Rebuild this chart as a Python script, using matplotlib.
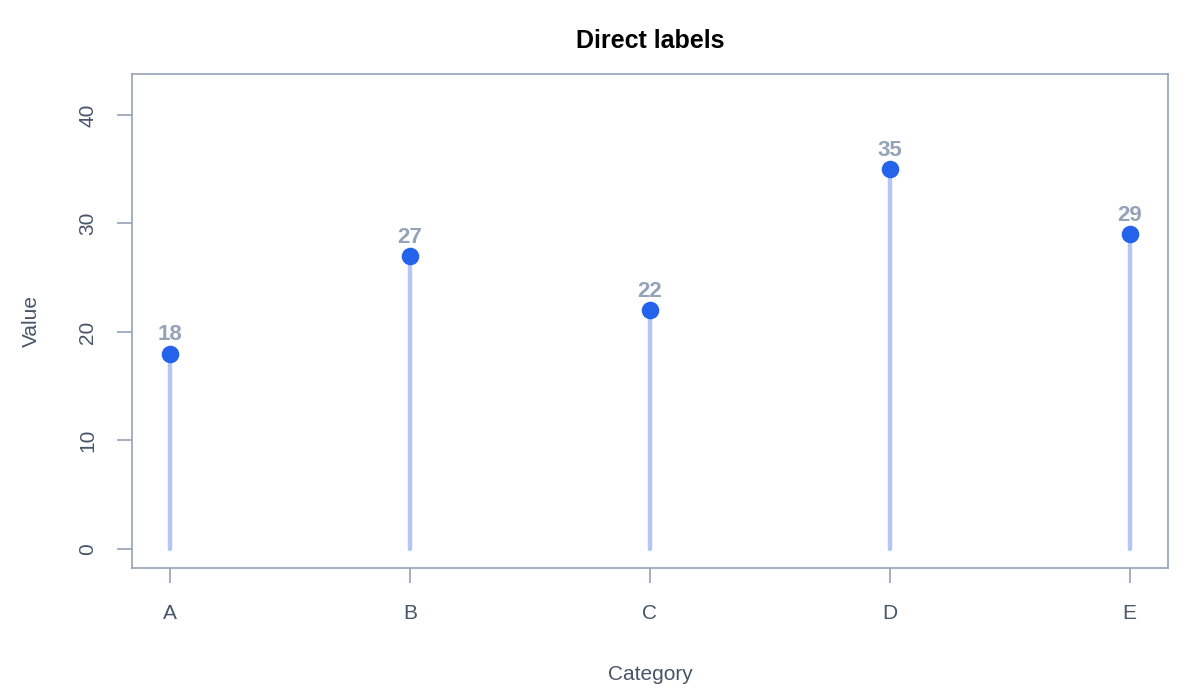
import matplotlib
matplotlib.use('Agg')
import matplotlib.pyplot as plt

plt.rcParams['font.family'] = ['Liberation Sans', 'DejaVu Sans']

categories = ['A', 'B', 'C', 'D', 'E']
values = [18, 27, 22, 35, 29]
yticks = [0, 10, 20, 30, 40]

box_col = '#94a3b8'
text_col = '#475569'

fig = plt.figure(figsize=(12, 7), dpi=100)
ax = fig.add_axes([0.11, 0.1886, 0.8633, 0.7057])

x = list(range(len(categories)))
ax.vlines(x, 0, values, color='#b4c6f6', linewidth=3.2, capstyle='round', zorder=2)
ax.scatter(x, values, s=160, color='#2563eb', zorder=3, linewidths=0)
for xi, v in zip(x, values):
    ax.annotate(str(v), (xi, v), xytext=(0, 6), textcoords='offset points',
                ha='center', va='bottom', fontsize=16, fontweight='bold', color='#94a3b8')

ax.set_xlim(-0.16, 4.16)
ax.set_ylim(-1.75, 43.78)
ax.set_xticks(x)
ax.set_xticklabels(categories)
ax.set_yticks(yticks)
ax.set_yticklabels([str(t) for t in yticks], rotation=90, va='center')

for s in ax.spines.values():
    s.set_color(box_col)
    s.set_linewidth(1.2)
ax.tick_params(axis='both', colors=box_col, length=11, width=1.2, labelsize=15,
               labelcolor=text_col)
ax.tick_params(axis='x', pad=15)
ax.tick_params(axis='y', pad=14)

ax.set_title('Direct labels', fontsize=18, fontweight='bold', color='black', pad=19)
ax.set_xlabel('Category', fontsize=15, color=text_col, labelpad=30)
ax.set_ylabel('Value', fontsize=15, color=text_col, labelpad=27)

fig.savefig('out.png', dpi=100)
